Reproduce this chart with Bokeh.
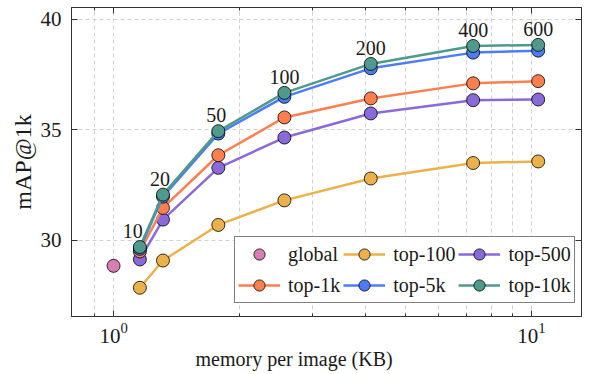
from bokeh.plotting import figure
from bokeh.models import (FixedTicker, LogAxis, LinearAxis, Legend, LegendItem,
                          Title, ColumnDataSource, Range1d)
from bokeh.core.properties import value
from bokeh.embed import file_html
from bokeh.resources import INLINE

# ---------------- data ----------------
budget_labels = ["10", "20", "50", "100", "200", "400", "600"]
memory_kb = [1.156, 1.313, 1.781, 2.563, 4.125, 7.25, 10.375]
global_memory = [1.0]
global_map = [28.85]
top100 = [27.86, 29.09, 30.70, 31.81, 32.80, 33.50, 33.57]
top500 = [29.14, 30.94, 33.28, 34.65, 35.74, 36.34, 36.37]
top1k = [29.50, 31.47, 33.85, 35.56, 36.42, 37.10, 37.20]
top5k = [29.62, 31.98, 34.83, 36.49, 37.78, 38.49, 38.58]
top10k = [29.70, 32.07, 34.94, 36.67, 37.98, 38.79, 38.84]
y_ticks = [30, 35, 40]
x_major_ticks = [1, 10]
x_minor_ticks = [0.9, 2, 3, 4, 5, 6, 7, 8, 9]

# ---------------- styling ----------------
FONT = "Liberation Serif"
FS = "21px"
C_GLOBAL = "#d77fb3"
C_100 = "#ebb14a"
C_500 = "#8a69d9"
C_1K = "#fc7f50"
C_5K = "#4d7cf7"
C_10K = "#4f9a8c"
FRAME = "#333333"
GRID = "#d0d0d0"
TXT = "#1a1a1a"

p = figure(width=600, height=374, x_axis_type="log",
           x_range=Range1d(0.7932, 13.17), y_range=Range1d(26.56, 40.53),
           output_backend="svg", toolbar_location=None,
           min_border_left=71, min_border_right=19,
           min_border_top=7, min_border_bottom=58)
p.title.visible = False
p.background_fill_color = "white"
p.border_fill_color = "white"
p.outline_line_color = FRAME
p.outline_line_width = 1

xticker = FixedTicker(ticks=x_major_ticks, minor_ticks=x_minor_ticks)
yticker = FixedTicker(ticks=y_ticks)

xa = p.xaxis[0]
xa.ticker = xticker
ya = p.yaxis[0]
ya.ticker = yticker

for ax in (xa, ya):
    ax.axis_line_color = FRAME
    ax.major_tick_line_color = FRAME
    ax.minor_tick_line_color = FRAME
    ax.major_tick_out = 0
    ax.minor_tick_out = 0
    ax.major_tick_in = 6
    ax.minor_tick_in = 3
    ax.major_label_text_font = FONT
    ax.major_label_text_font_size = FS
    ax.major_label_text_color = TXT
ya.minor_tick_line_color = None
xa.major_label_standoff = 6
ya.major_label_standoff = 10
ya.axis_label = "mAP@1k"
ya.axis_label_text_font = FONT
ya.axis_label_text_font_size = "24px"
ya.axis_label_text_font_style = "normal"
ya.axis_label_text_color = TXT
ya.axis_label_standoff = 2

# x-axis title, placed left of centre as in the reference
xtitle = Title(text="memory per image (KB)", align="left", offset=124,
               text_font=FONT, text_font_size="20px",
               text_font_style="normal", text_color=TXT, standoff=0)
p.add_layout(xtitle, "below")

# mirrored ticks on top and right
top_ax = LogAxis(ticker=xticker, major_tick_in=6, minor_tick_in=3,
                 major_tick_out=0, minor_tick_out=0,
                 major_tick_line_color=FRAME, minor_tick_line_color=FRAME,
                 axis_line_color=FRAME, major_label_text_color=None,
                 major_label_text_font_size="1px", major_label_standoff=0)
right_ax = LinearAxis(ticker=yticker, major_tick_in=6, major_tick_out=0,
                      minor_tick_line_color=None,
                      major_tick_line_color=FRAME, axis_line_color=FRAME,
                      major_label_text_color=None,
                      major_label_text_font_size="1px", major_label_standoff=0)
p.add_layout(top_ax, "above")
p.add_layout(right_ax, "right")

# grid
p.xgrid.grid_line_color = GRID
p.xgrid.grid_line_dash = "4 3"
p.xgrid.minor_grid_line_color = GRID
p.xgrid.minor_grid_line_dash = "4 3"
p.ygrid.grid_line_color = GRID
p.ygrid.grid_line_dash = "4 3"

# series
MS = 13
LW = 2.5
items = []

r_g = p.scatter(global_memory, global_map, size=MS, fill_color=C_GLOBAL,
                line_color="black", line_width=0.8)
items.append(LegendItem(label="global", renderers=[r_g]))

series = [("top-100", top100, C_100), ("top-500", top500, C_500),
          ("top-1k", top1k, C_1K), ("top-5k", top5k, C_5K),
          ("top-10k", top10k, C_10K)]
legend_map = {}
for name, vals, col in series:
    src = ColumnDataSource(dict(x=memory_kb, y=vals))
    rl = p.line("x", "y", source=src, line_color=col, line_width=LW)
    rs = p.scatter("x", "y", source=src, size=MS, fill_color=col,
                   line_color="black", line_width=0.8)
    legend_map[name] = [rl, rs]

for name in ["top-100", "top-500", "top-1k", "top-5k", "top-10k"]:
    items.append(LegendItem(label=name, renderers=legend_map[name]))

# budget annotations above the top-10k curve
label_dx = [-7, -3, -2, 0, 0, 0, 0]
lsrc = ColumnDataSource(dict(x=memory_kb, y=top10k, t=budget_labels, dx=label_dx))
p.text("x", "y", text="t", source=lsrc, x_offset="dx", y_offset=-16,
       text_align="center", text_baseline="alphabetic",
       text_font=value(FONT), text_font_size="20px", text_color=TXT)

legend = Legend(items=items, location=(163, 13), orientation="horizontal",
                ncols=3)
legend.label_text_font = FONT
legend.label_text_font_size = "20px"
legend.label_text_color = TXT
legend.glyph_width = 42
legend.glyph_height = 28
legend.label_standoff = 8
legend.spacing = 3
legend.padding = 3
legend.margin = 0
legend.border_line_color = "black"
legend.border_line_width = 1
legend.background_fill_color = "white"
legend.background_fill_alpha = 1.0
p.add_layout(legend, "center")

open("out.html", "w").write(file_html(p, INLINE))
